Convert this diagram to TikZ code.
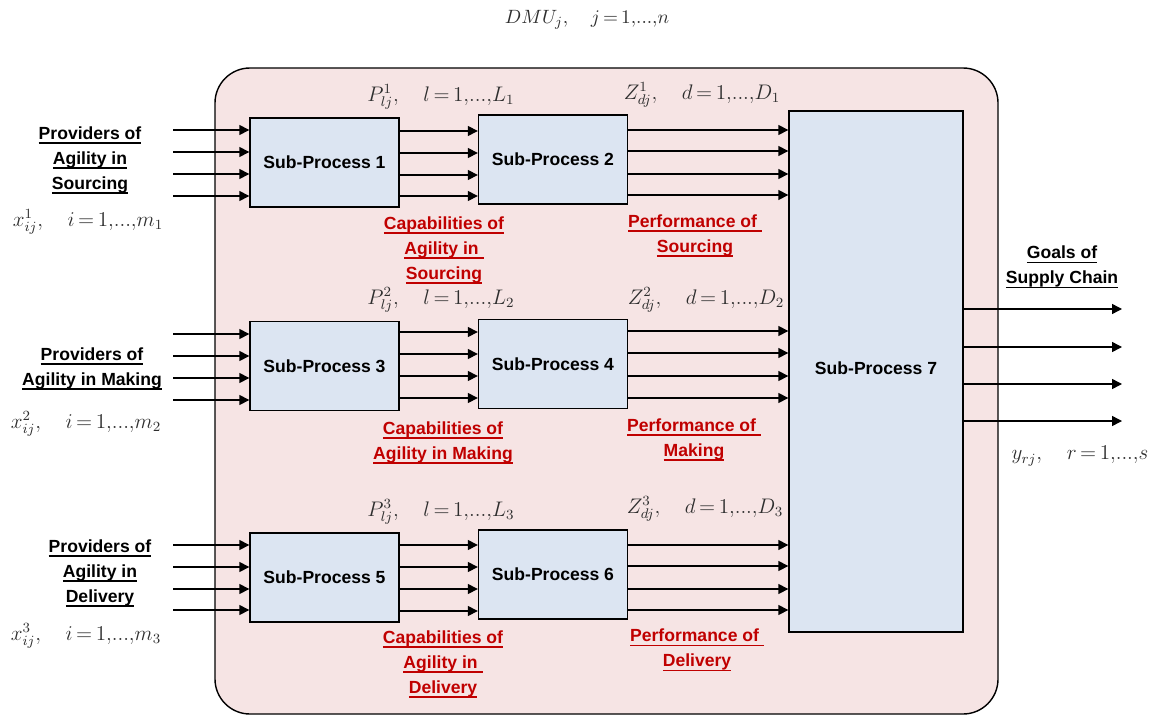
\documentclass[tikz,border=0pt]{standalone}
\usepackage[no-math]{fontspec}
\setmainfont{Liberation Sans}
\usetikzlibrary{arrows.meta}
\definecolor{pinkbg}{HTML}{F6E4E4}
\definecolor{procblue}{HTML}{DCE5F2}
\definecolor{capred}{HTML}{C00000}
\definecolor{idxgray}{HTML}{2E2E2E}
\newcommand{\undl}[1]{\setbox0\hbox{#1}\rlap{\rule[-2.6pt]{\wd0}{0.8pt}}\box0}
\newcommand{\rng}[2]{#1\,{=}\,1{,}{.}{.}{.}{,}#2}

\begin{document}
\begin{tikzpicture}[x=0.02cm, y=-0.02cm,
	proc/.style={draw, line width=0.8pt, fill=procblue, font=\bfseries, minimum width=2.98cm, minimum height=1.78cm},
	flow/.style={-{Triangle[length=2mm,width=2mm]}, line width=0.8pt},
	lbl/.style={font=\bfseries\fontsize{10}{14.2}\selectfont, align=center, inner sep=0pt},
	capnote/.style={lbl, text=capred},
	idx/.style={text=idxgray, font=\fontsize{12}{14}\selectfont, inner sep=0pt}]
	\useasboundingbox (0,0) rectangle (1151,716);

	%frame
	\draw[line width=0.8pt, fill=pinkbg, rounded corners=0.7cm] (215,68) rectangle (998,714);
	\node[idx, font=\fontsize{11}{13}\selectfont] (dmu) at (587,20) {$DMU_j,\quad \rng{j}{n}$};

	%sub-processes
	\node[proc] (sp1) at (324.5,162.5) {Sub-Process 1};
	\node[proc] (sp2) at (553,159.5) {Sub-Process 2};
	\node[proc] (sp3) at (324.5,366) {Sub-Process 3};
	\node[proc] (sp4) at (553,364) {Sub-Process 4};
	\node[proc] (sp5) at (324.5,577.5) {Sub-Process 5};
	\node[proc] (sp6) at (553,574.5) {Sub-Process 6};
	\node[proc, minimum width=3.48cm, minimum height=10.42cm] (sp7) at (876,371.5) {\raisebox{3.4pt}{Sub-Process 7}};

	%inputs
	\foreach \y in {130,152,174,196}
		\draw[flow] (173,\y) coordinate (s) -- (s -| sp1.west);
	\foreach \y in {334,356,378,400}
		\draw[flow] (173,\y) coordinate (s) -- (s -| sp3.west);
	\foreach \y in {545,567,589,610}
		\draw[flow] (173,\y) coordinate (s) -- (s -| sp5.west);

	%links
	\foreach \y in {131,153,175,196}
		\draw[flow] (0,\y) coordinate (h) (h -| sp1.east) -- (h -| sp2.west);
	\foreach \y in {332,354,376,398}
		\draw[flow] (0,\y) coordinate (h) (h -| sp3.east) -- (h -| sp4.west);
	\foreach \y in {545,567,589,611}
		\draw[flow] (0,\y) coordinate (h) (h -| sp5.east) -- (h -| sp6.west);
	\foreach \y in {130,151,174,195}
		\draw[flow] (0,\y) coordinate (h) (h -| sp2.east) -- (h -| sp7.west);
	\foreach \y in {331,353,376,398}
		\draw[flow] (0,\y) coordinate (h) (h -| sp4.east) -- (h -| sp7.west);
	\foreach \y in {545,566,589,610}
		\draw[flow] (0,\y) coordinate (h) (h -| sp6.east) -- (h -| sp7.west);

	%outputs
	\foreach \y in {309,347,384,421}
		\draw[flow] (0,\y) coordinate (h) (h -| sp7.east) -- (1122,\y);

	%providers
	\node[lbl] (prov1) at (90,160) {\undl{Providers of}\\\undl{Agility in}\\\undl{Sourcing}};
	\node[lbl] (prov2) at (92,368.5) {\undl{Providers of}\\\undl{Agility in Making}};
	\node[lbl] (prov3) at (100,573) {\undl{Providers of}\\\undl{Agility in}\\\undl{Delivery}};
	\node[idx] (x1) at (88,222) {$x^1_{ij},\quad \rng{i}{m_1}$};
	\node[idx] (x2) at (86,424) {$x^2_{ij},\quad \rng{i}{m_2}$};
	\node[idx] (x3) at (86,636) {$x^3_{ij},\quad \rng{i}{m_3}$};

	%capabilities and performance
	\node[idx] (p1) at (441,97) {$P^1_{lj},\quad \rng{l}{L_1}$};
	\node[idx] (z1) at (702,95) {$Z^1_{dj},\quad \rng{d}{D_1}$};
	\node[idx] (p2) at (441,300) {$P^2_{lj},\quad \rng{l}{L_2}$};
	\node[idx] (z2) at (706,300) {$Z^2_{dj},\quad \rng{d}{D_2}$};
	\node[idx] (p3) at (441,512) {$P^3_{lj},\quad \rng{l}{L_3}$};
	\node[idx] (z3) at (705,509) {$Z^3_{dj},\quad \rng{d}{D_3}$};
	\node[capnote] (cap1) at (444,250) {\undl{Capabilities of}\\\undl{Agility in\ }\\\undl{Sourcing}};
	\node[capnote] (perf1) at (695,235.5) {\undl{Performance of\ }\\\undl{Sourcing}};
	\node[capnote] (cap2) at (443,442.5) {\undl{Capabilities of}\\\undl{Agility in Making}};
	\node[capnote] (perf2) at (694,439.5) {\undl{Performance of\ }\\\undl{Making}};
	\node[capnote] (cap3) at (443,664) {\undl{Capabilities of}\\\undl{Agility in\ }\\\undl{Delivery}};
	\node[capnote] (perf3) at (697,650) {\undl{Performance of\ }\\\undl{Delivery}};

	%goals
	\node[lbl] (goals) at (1062,267) {\undl{Goals of}\\\undl{Supply Chain}};
	\node[idx] (yr) at (1080,456) {$y_{rj},\quad \rng{r}{s}$};
\end{tikzpicture}
\end{document}
